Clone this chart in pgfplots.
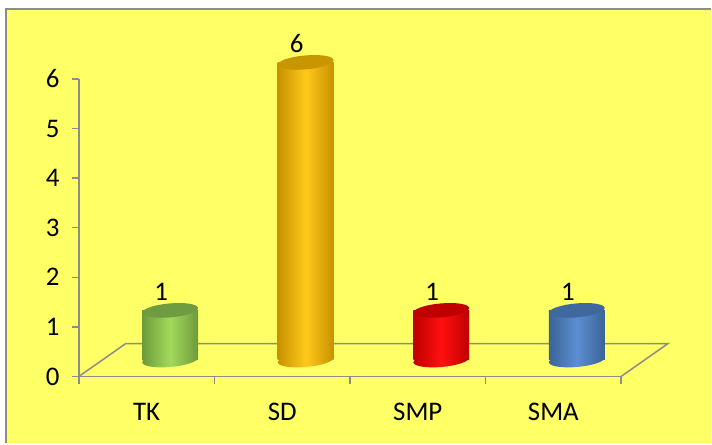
\documentclass[border=0pt]{standalone}
\usepackage{pgfplots}
\pgfplotsset{compat=1.18}
\usetikzlibrary{shapes.geometric}
\usepackage{fontspec}
\setmainfont{Carlito}
\definecolor{bgy}{HTML}{FFFF66}
\definecolor{axg}{HTML}{8C8C8C}
\definecolor{gL}{HTML}{A2DA5C}\definecolor{gD}{HTML}{6E9A3A}\definecolor{gT}{HTML}{6F9C40}
\definecolor{oL}{HTML}{FFC81A}\definecolor{oD}{HTML}{C89200}\definecolor{oT}{HTML}{C89600}
\definecolor{rL}{HTML}{FF1010}\definecolor{rD}{HTML}{BE0000}\definecolor{rT}{HTML}{C00000}
\definecolor{bL}{HTML}{5C8ED2}\definecolor{bD}{HTML}{3B6496}\definecolor{bT}{HTML}{3F699E}
\pgfplotsset{
  cylbase/.style={draw=none, nodes near coords={}, every node near coord/.append style={ellipse, anchor=center, minimum width=56bp, minimum height=14bp, inner sep=0pt, rotate=5, left color=#1D, right color=#1D, middle color=#1L}},
  cylbody/.style={ybar, bar width=56bp, bar shift=0pt, draw=none, left color=#1D, right color=#1D, middle color=#1L, nodes near coords={}, every node near coord/.append style={ellipse, anchor=center, minimum width=56bp, minimum height=14bp, inner sep=0pt, rotate=5, fill=#1T}},
  cyllab/.style={draw=none, nodes near coords, every node near coord/.append style={anchor=center, xshift=-9bp, yshift=19bp, font=\fontsize{27}{31}\selectfont, text=black}},
}
\begin{document}
\begin{tikzpicture}
\fill[white] (0,0) rectangle (712bp,444bp);
\fill[bgy] (6bp,0) rectangle (712bp,435bp);
\draw[axg, line width=2bp] (6bp,0) -- (6bp,435bp) -- (712bp,435bp);
\begin{axis}[
  at={(79bp,67bp)}, anchor=origin, scale only axis,
  width=543bp, height=298bp,
  xmin=0, xmax=4, ymin=0, ymax=6,
  axis lines*=left,
  axis line style={axg, line width=1.5bp},
  tick align=outside,
  ytick={0,1,2,3,4,5,6},
  xtick={0.5,1.5,2.5,3.5},
  xticklabels={TK,SD,SMP,SMA},
  minor xtick={0,1,2,3,4},
  major tick length=7bp, minor tick length=8bp,
  major x tick style={draw=none},
  tick style={axg, line width=1.5bp},
  /pgf/number format/assume math mode=true,
  tick label style={font=\fontsize{27}{31}\selectfont},
  yticklabel style={xshift=-9bp},
  xticklabel style={yshift=-16bp},
  clip=false,
]
\draw[axg, line width=1.5bp] (axis cs:4,0) -- ++(47bp,33bp) -- ++(-543bp,0) -- (axis cs:0,0);
\end{axis}
\begin{axis}[
  at={(102.5bp,83.5bp)}, anchor=origin, scale only axis,
  width=543bp, height=298bp,
  xmin=0, xmax=4, ymin=0, ymax=6,
  hide axis, clip=false,
  /pgf/number format/assume math mode=true,
]
\addplot[cylbase=g] coordinates {(0.5,0)};
\addplot[cylbody=g] coordinates {(0.5,1)};
\addplot[cyllab] coordinates {(0.5,1)};
\addplot[cylbase=o] coordinates {(1.5,0)};
\addplot[cylbody=o] coordinates {(1.5,6)};
\addplot[cyllab] coordinates {(1.5,6)};
\addplot[cylbase=r] coordinates {(2.5,0)};
\addplot[cylbody=r] coordinates {(2.5,1)};
\addplot[cyllab] coordinates {(2.5,1)};
\addplot[cylbase=b] coordinates {(3.5,0)};
\addplot[cylbody=b] coordinates {(3.5,1)};
\addplot[cyllab] coordinates {(3.5,1)};
\end{axis}
\end{tikzpicture}
\end{document}
